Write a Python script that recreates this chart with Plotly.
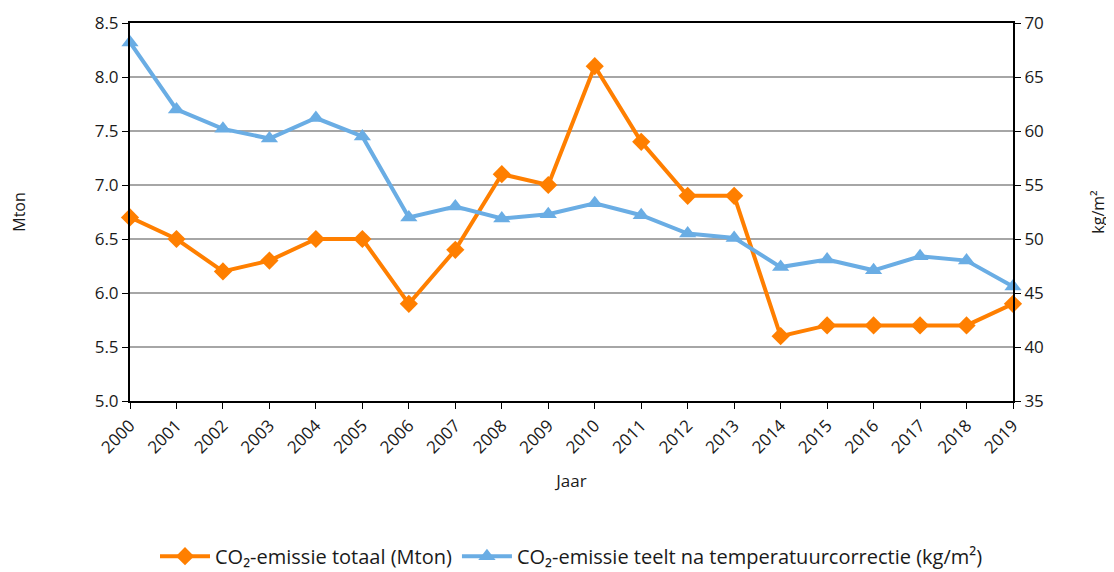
import plotly.graph_objects as go

years = list(range(2000, 2020))
co2_totaal = [6.7, 6.5, 6.2, 6.3, 6.5, 6.5, 5.9, 6.4, 7.1, 7.0,
              8.1, 7.4, 6.9, 6.9, 5.6, 5.7, 5.7, 5.7, 5.7, 5.9]
co2_teelt = [68.2, 62.0, 60.2, 59.3, 61.2, 59.5, 52.0, 53.0, 51.9, 52.3,
             53.3, 52.2, 50.5, 50.1, 47.4, 48.1, 47.1, 48.4, 48.0, 45.6]

ORANGE = '#FF7F00'
BLUE = '#6AADE4'
FONT = 'Open Sans'

fig = go.Figure()
fig.add_trace(go.Scatter(
    x=years, y=co2_totaal,
    mode='lines+markers',
    name='CO₂-emissie totaal (Mton)',
    line=dict(color=ORANGE, width=4),
    marker=dict(symbol='diamond', size=14, color=ORANGE),
    cliponaxis=False
))
fig.add_trace(go.Scatter(
    x=years, y=co2_teelt,
    mode='lines+markers',
    name='CO₂-emissie teelt na temperatuurcorrectie (kg/m²)',
    line=dict(color=BLUE, width=4),
    marker=dict(symbol='triangle-up', size=15, color=BLUE),
    yaxis='y2',
    cliponaxis=False
))

# page body adds an 8px offset, so the figure is 8px smaller than the window
fig.update_layout(
    width=1106, height=564,
    margin=dict(l=122, r=101, t=15, b=171),
    paper_bgcolor='white',
    plot_bgcolor='white',
    font=dict(family=FONT, size=17, color='#1a1a1a'),
    showlegend=True,
    legend=dict(orientation='h', x=0.5, xanchor='center',
                yref='container', y=0.028, yanchor='middle',
                font=dict(size=20), itemwidth=50, tracegroupgap=0),
    xaxis=dict(
        range=[2000, 2019], tickmode='linear', dtick=1, tick0=2000,
        tickangle=-45, showline=True, linecolor='black', linewidth=2,
        mirror=True, ticks='outside', ticklen=6, tickcolor='black',
        showgrid=False, zeroline=False, automargin=False,
        title=dict(text='Jaar', font=dict(size=17), standoff=18)
    ),
    yaxis=dict(
        range=[5.0, 8.5], dtick=0.5, tickformat='.1f',
        showline=True, linecolor='black', linewidth=2,
        ticks='outside', ticklen=6, tickcolor='black',
        showgrid=True, gridcolor='#A6A6A6', gridwidth=2, zeroline=False,
        automargin=False,
        title=dict(text='Mton', font=dict(size=16), standoff=66)
    ),
    yaxis2=dict(
        range=[35, 70], dtick=5, overlaying='y', side='right',
        showline=True, linecolor='black', linewidth=2,
        ticks='outside', ticklen=6, tickcolor='black',
        showgrid=False, zeroline=False, automargin=False,
        title=dict(text='kg/m²', font=dict(size=16), standoff=50)
    ),
)

fig.write_html('out.html')
